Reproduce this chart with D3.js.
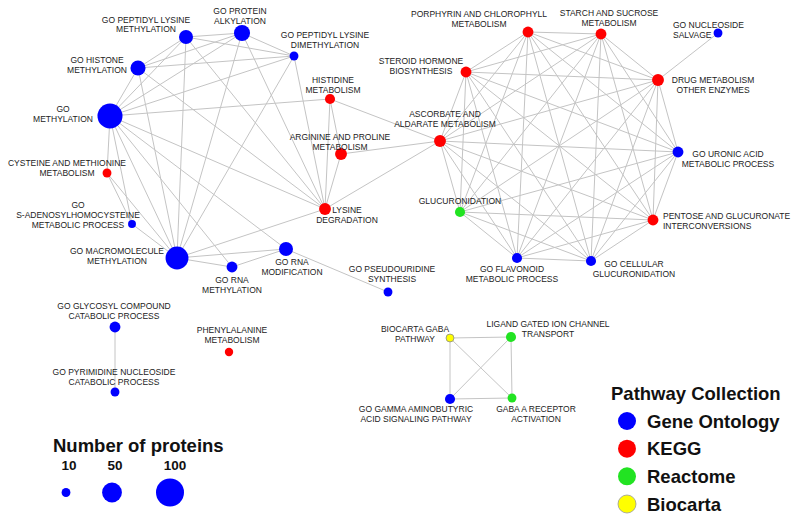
<!DOCTYPE html>
<html>
<head>
<meta charset="utf-8">
<script src="https://cdn.jsdelivr.net/npm/d3@7"></script>
<style>
  body { margin: 0; background: #fff; }
  svg { display: block; }
  .edge { stroke: #c4c4c4; stroke-width: 1; fill: none; }
  .lbl { font-family: "Liberation Sans", Arial, sans-serif; font-size: 8.5px; fill: #222; }
  .legend-title { font-family: "Liberation Sans", Arial, sans-serif; font-weight: bold; font-size: 18.5px; fill: #111; }
</style>
</head>
<body>
<div id="chart"></div>
<script>
// pathway nodes
var pathwayIds = ["pkm", "palk", "pkdm", "hist", "meth", "his", "arg", "cys", "sah", "macro", "lys", "rnamod", "rnameth", "pseudo",
  "porph", "starch", "nucsal", "steroid", "drug", "ascorb", "uronic", "glucur", "pentose", "flavo", "cellgluc",
  "glycos", "pyrim", "phe", "biogaba", "ligand", "gamma", "gabaa"];
var pathwayNames = [
  "GO PEPTIDYL LYSINE\nMETHYLATION", "GO PROTEIN\nALKYLATION", "GO PEPTIDYL LYSINE\nDIMETHYLATION", "GO HISTONE\nMETHYLATION",
  "GO\nMETHYLATION", "HISTIDINE\nMETABOLISM", "ARGININE AND PROLINE\nMETABOLISM", "CYSTEINE AND METHIONINE\nMETABOLISM",
  "GO\nS-ADENOSYLHOMOCYSTEINE\nMETABOLIC PROCESS", "GO MACROMOLECULE\nMETHYLATION", "LYSINE\nDEGRADATION", "GO RNA\nMODIFICATION",
  "GO RNA\nMETHYLATION", "GO PSEUDOURIDINE\nSYNTHESIS",
  "PORPHYRIN AND CHLOROPHYLL\nMETABOLISM", "STARCH AND SUCROSE\nMETABOLISM", "GO NUCLEOSIDE\nSALVAGE", "STEROID HORMONE\nBIOSYNTHESIS",
  "DRUG METABOLISM\nOTHER ENZYMES", "ASCORBATE AND\nALDARATE METABOLISM", "GO URONIC ACID\nMETABOLIC PROCESS", "GLUCURONIDATION",
  "PENTOSE AND GLUCURONATE\nINTERCONVERSIONS", "GO FLAVONOID\nMETABOLIC PROCESS", "GO CELLULAR\nGLUCURONIDATION",
  "GO GLYCOSYL COMPOUND\nCATABOLIC PROCESS", "GO PYRIMIDINE NUCLEOSIDE\nCATABOLIC PROCESS", "PHENYLALANINE\nMETABOLISM",
  "BIOCARTA GABA\nPATHWAY", "LIGAND GATED ION CHANNEL\nTRANSPORT", "GO GAMMA AMINOBUTYRIC\nACID SIGNALING PATHWAY", "GABA A RECEPTOR\nACTIVATION"];
var pathwayCollection = ["Gene Ontology", "Gene Ontology", "Gene Ontology", "Gene Ontology", "Gene Ontology", "KEGG", "KEGG", "KEGG",
  "Gene Ontology", "Gene Ontology", "KEGG", "Gene Ontology", "Gene Ontology", "Gene Ontology",
  "KEGG", "KEGG", "Gene Ontology", "KEGG", "KEGG", "KEGG", "Gene Ontology", "Reactome", "KEGG", "Gene Ontology", "Gene Ontology",
  "Gene Ontology", "Gene Ontology", "KEGG", "Biocarta", "Reactome", "Gene Ontology", "Reactome"];
var proteinCounts = [25, 33, 10, 29, 80, 13, 18, 10, 8, 67, 18, 25, 15, 10,
  15, 15, 10, 15, 18, 18, 15, 13, 15, 13, 13,
  15, 10, 9, 8, 13, 13, 10];

// shared-gene links between pathways
var methylClique = ["pkm", "palk", "pkdm", "hist", "meth", "macro"];
var glucClique = ["porph", "starch", "steroid", "drug", "ascorb", "uronic", "glucur", "pentose", "flavo", "cellgluc"];
var gabaClique = ["biogaba", "ligand", "gamma", "gabaa"];
var otherEdges = [
  ["lys", "pkm"], ["lys", "palk"], ["lys", "pkdm"], ["lys", "hist"], ["lys", "meth"], ["lys", "macro"],
  ["lys", "his"], ["lys", "arg"], ["lys", "ascorb"],
  ["his", "meth"], ["his", "arg"], ["his", "ascorb"], ["arg", "ascorb"],
  ["cys", "meth"], ["cys", "sah"], ["cys", "macro"], ["sah", "meth"], ["sah", "macro"],
  ["rnamod", "macro"], ["rnamod", "rnameth"], ["rnamod", "pseudo"], ["rnamod", "meth"],
  ["rnameth", "macro"], ["rnameth", "meth"],
  ["drug", "nucsal"], ["glycos", "pyrim"]];

// legends
var collections = ["Gene Ontology", "KEGG", "Reactome", "Biocarta"];
var collectionColors = ["#0000ff", "#ff0000", "#22e322", "#ffff00"];
var sizeLegend = [10, 50, 100];

// node layout (px) and label offsets [dx, dy, anchor]
var layout = {
  pkm: [186, 37], palk: [242, 33], pkdm: [294, 56], hist: [138, 68], meth: [110, 116], his: [330, 99], arg: [341, 154],
  cys: [107, 173], sah: [132, 224], macro: [177, 258], lys: [325, 209], rnamod: [286, 249], rnameth: [232, 267], pseudo: [388, 292],
  porph: [528, 32], starch: [601, 34], nucsal: [718, 33], steroid: [466, 72], drug: [658, 80], ascorb: [440, 141],
  uronic: [678, 152], glucur: [460, 212], pentose: [653, 220], flavo: [517, 258], cellgluc: [591, 261],
  glycos: [115, 327], pyrim: [115, 392], phe: [229, 352], biogaba: [450, 338], ligand: [511, 337], gamma: [450, 399], gabaa: [512, 398]
};
var labelOffset = {
  pkm: [-40, -14.5, "middle"], palk: [-2, -19, "middle"], pkdm: [31, -18, "middle"], hist: [-41, -5, "middle"],
  meth: [-47, -4, "middle"], his: [3, -16, "middle"], arg: [-1, -14, "middle"], cys: [-40, -7, "middle"],
  sah: [-54, -16, "middle"], macro: [-60, -4, "middle"], lys: [22, 4, "middle"], rnamod: [6, 16, "middle"],
  rnameth: [0, 16, "middle"], pseudo: [4, -20, "middle"],
  porph: [-49, -15, "middle"], starch: [8, -18, "middle"], nucsal: [-45, -5, "start"], steroid: [-45, -8, "middle"],
  drug: [55, 3, "middle"], ascorb: [5, -24, "middle"], uronic: [50, 5, "middle"], glucur: [0, -8, "middle"],
  pentose: [10, -1, "start"], flavo: [-5, 14, "middle"], cellgluc: [43, 6, "middle"],
  glycos: [-1, -18, "middle"], pyrim: [-1, -17, "middle"], phe: [3, -19, "middle"],
  biogaba: [-35, -6, "middle"], ligand: [37, -10, "middle"], gamma: [-34, 13, "middle"], gabaa: [24, 14, "middle"]
};

var width = 800, height = 523;

var x = d3.scaleLinear().domain([0, 800]).range([0, width]);
var y = d3.scaleLinear().domain([0, 523]).range([0, height]);
var radius = d3.scaleSqrt().domain([0, 100]).range([0, 14]);
var color = d3.scaleOrdinal().domain(collections).range(collectionColors);

var nodes = pathwayIds.map(function (id, i) {
  return { id: id, name: pathwayNames[i], collection: pathwayCollection[i], proteins: proteinCounts[i],
    px: layout[id][0], py: layout[id][1] };
});
var nodeById = {};
nodes.forEach(function (n) { nodeById[n.id] = n; });

// build edge list from cliques + extras
var links = [];
[methylClique, glucClique, gabaClique].forEach(function (clique) {
  for (var i = 0; i < clique.length; i++) {
    for (var j = i + 1; j < clique.length; j++) {
      links.push([clique[i], clique[j]]);
    }
  }
});
links = links.concat(otherEdges);

var svg = d3.select("#chart").append("svg")
  .attr("width", width)
  .attr("height", height);

// edges
svg.append("g").selectAll("line")
  .data(links)
  .enter()
  .append("line")
  .attr("class", "edge")
  .attr("x1", function (d) { return x(nodeById[d[0]].px); })
  .attr("y1", function (d) { return y(nodeById[d[0]].py); })
  .attr("x2", function (d) { return x(nodeById[d[1]].px); })
  .attr("y2", function (d) { return y(nodeById[d[1]].py); });

// nodes
svg.append("g").selectAll("circle")
  .data(nodes)
  .enter()
  .append("circle")
  .attr("cx", function (d) { return x(d.px); })
  .attr("cy", function (d) { return y(d.py); })
  .attr("r", function (d) { return radius(d.proteins); })
  .attr("fill", function (d) { return color(d.collection); })
  .attr("stroke", function (d) { return d.collection === "Biocarta" ? "#888" : "none"; })
  .attr("stroke-width", 0.8);

// labels
var labels = svg.append("g").selectAll("text")
  .data(nodes)
  .enter()
  .append("text")
  .attr("class", "lbl")
  .attr("text-anchor", function (d) { return labelOffset[d.id][2]; });

labels.each(function (d) {
  var off = labelOffset[d.id];
  var t = d3.select(this);
  d.name.split("\n").forEach(function (line, i) {
    t.append("tspan")
      .attr("x", x(d.px) + off[0])
      .attr("y", y(d.py) + off[1] + i * 9.8)
      .text(line);
  });
});

// size legend
svg.append("text")
  .attr("class", "legend-title")
  .attr("x", 53)
  .attr("y", 452)
  .text("Number of proteins");

var sizeX = d3.scalePoint().domain(sizeLegend).range([66, 170]);
var sizeLabelX = { 10: 69, 50: 115, 100: 175 };
var sizeG = svg.append("g").selectAll("g")
  .data(sizeLegend)
  .enter()
  .append("g");
sizeG.append("circle")
  .attr("cx", function (d) { return d === 50 ? 112 : sizeX(d); })
  .attr("cy", 492.5)
  .attr("r", function (d) { return radius(d); })
  .attr("fill", "#0000ff");
sizeG.append("text")
  .attr("x", function (d) { return sizeLabelX[d]; })
  .attr("y", 470)
  .attr("text-anchor", "middle")
  .style("font-family", "Liberation Sans, Arial, sans-serif")
  .style("font-weight", "bold")
  .style("font-size", "13.5px")
  .style("fill", "#111")
  .text(function (d) { return d; });

// collection legend
svg.append("text")
  .attr("class", "legend-title")
  .attr("x", 611)
  .attr("y", 400)
  .text("Pathway Collection");

var legY = d3.scaleLinear().domain([0, 3]).range([421, 504]);
var colG = svg.append("g").selectAll("g")
  .data(collections)
  .enter()
  .append("g");
colG.append("circle")
  .attr("cx", 627)
  .attr("cy", function (d, i) { return legY(i); })
  .attr("r", 9)
  .attr("fill", function (d) { return color(d); })
  .attr("stroke", function (d) { return d === "Biocarta" ? "#999" : "none"; })
  .attr("stroke-width", 0.8);
colG.append("text")
  .attr("class", "legend-title")
  .attr("x", 647)
  .attr("y", function (d, i) { return legY(i) + 6.5; })
  .text(function (d) { return d; });
</script>
</body>
</html>
